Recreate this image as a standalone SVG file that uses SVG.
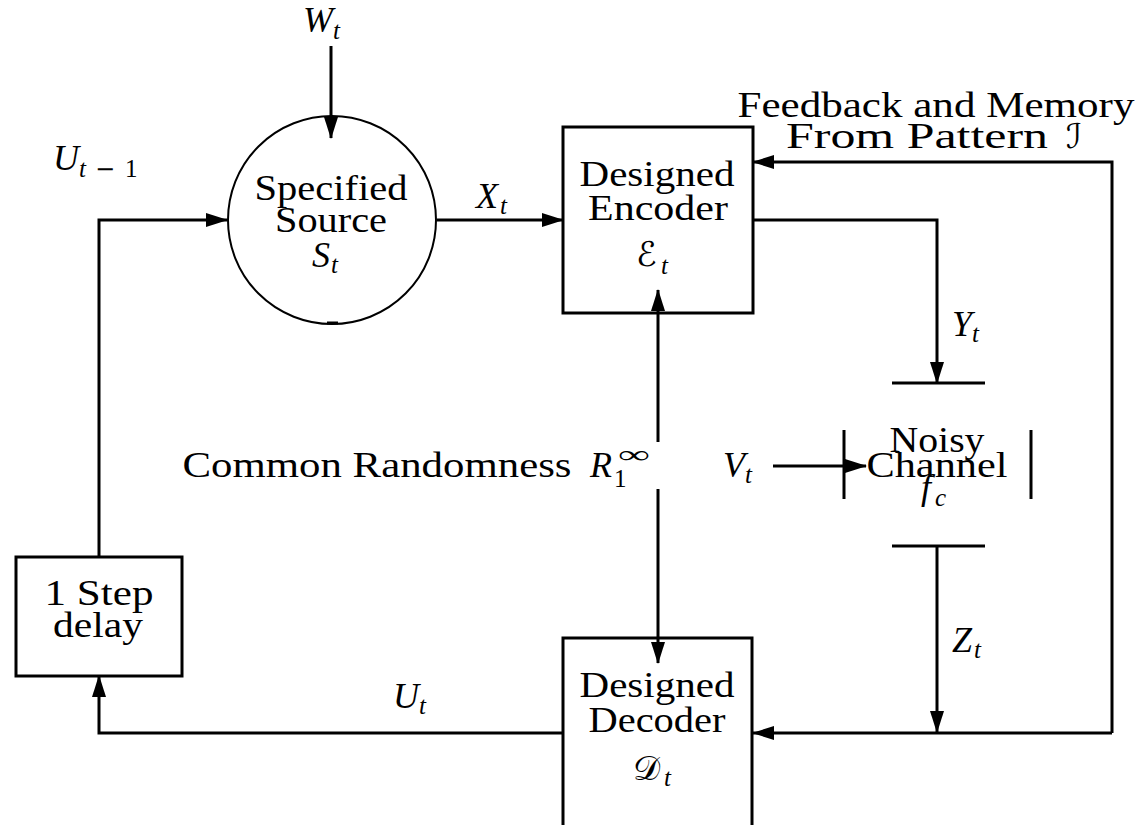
<svg xmlns="http://www.w3.org/2000/svg" width="1140" height="825" viewBox="0 0 1140 825">
<defs>
<marker id="arr" markerUnits="userSpaceOnUse" markerWidth="24" markerHeight="16" refX="21" refY="7" orient="auto">
<path d="M0,0 L22,7 L0,14 Z" fill="#000"/>
</marker>
<style>
.node{fill:#fff;stroke:#000;stroke-width:3}
.circ{fill:#fff;stroke:#000;stroke-width:2}
.bar{stroke:#000;stroke-width:3;fill:none}
.conn{stroke:#000;stroke-width:3;fill:none}
.arrow{marker-end:url(#arr)}
.rm{font-family:"Liberation Serif","DejaVu Serif",serif;font-size:36px;fill:#000;text-anchor:middle}
.mi{font-family:"Liberation Serif","DejaVu Serif",serif;font-size:36px;font-style:italic;fill:#000}
.sub{font-family:"Liberation Serif","DejaVu Serif",serif;font-size:25px;font-style:italic;fill:#000}
.subr{font-family:"Liberation Serif","DejaVu Serif",serif;font-size:25px;fill:#000}
.op{font-family:"DejaVu Serif","Liberation Serif",serif;font-size:24px;fill:#000}
.cal{font-family:"DejaVu Serif","DejaVu Sans","Noto Sans",serif;font-size:34px;fill:#000}
</style>
</defs>
<rect width="1140" height="825" fill="#fff"/>

<g id="source">
<circle class="circ" cx="332" cy="220" r="104"/>
<line class="bar" x1="327" y1="323" x2="338" y2="323"/>
<text class="rm" x="331" y="200" textLength="153" lengthAdjust="spacingAndGlyphs">Specified</text>
<text class="rm" x="331" y="232" textLength="112" lengthAdjust="spacingAndGlyphs">Source</text>
<text class="mi" x="312" y="267">S</text><text class="sub" x="331" y="273">t</text>
</g>

<g id="encoder">
<rect class="node" x="563" y="127" width="190" height="186"/>
<text class="rm" x="657" y="186" textLength="155" lengthAdjust="spacingAndGlyphs">Designed</text>
<text class="rm" x="658" y="220" textLength="140" lengthAdjust="spacingAndGlyphs">Encoder</text>
<text class="cal" x="636" y="266">ℰ</text><text class="sub" x="661" y="274">t</text>
</g>

<g id="decoder">
<rect class="node" x="563" y="638" width="189" height="200"/>
<text class="rm" x="657" y="697" textLength="155" lengthAdjust="spacingAndGlyphs">Designed</text>
<text class="rm" x="657" y="732" textLength="137" lengthAdjust="spacingAndGlyphs">Decoder</text>
<text class="cal" x="633" y="780">𝒟</text><text class="sub" x="664" y="786">t</text>
</g>

<g id="delay">
<rect class="node" x="16" y="557" width="166" height="119"/>
<text class="rm" x="99" y="605" textLength="109" lengthAdjust="spacingAndGlyphs">1 Step</text>
<text class="rm" x="98" y="637" textLength="90" lengthAdjust="spacingAndGlyphs">delay</text>
</g>

<g id="channel">
<line class="bar" x1="892" y1="383" x2="985" y2="383"/>
<line class="bar" x1="892" y1="546" x2="985" y2="546"/>
<line class="bar" x1="844" y1="430" x2="844" y2="499"/>
<line class="bar" x1="1031" y1="430" x2="1031" y2="499"/>
<text class="rm" x="937" y="452" textLength="95" lengthAdjust="spacingAndGlyphs">Noisy</text>
<text class="rm" x="937" y="477" textLength="141" lengthAdjust="spacingAndGlyphs">Channel</text>
<text class="mi" x="921" y="499">f</text><text class="sub" x="935" y="506">c</text>
</g>

<g id="labels">
<text class="mi" x="303" y="32">W</text><text class="sub" x="333" y="39">t</text>
<text class="mi" x="53" y="170">U</text><text class="sub" x="79" y="177">t</text><text class="op" x="95" y="177">−</text><text class="subr" x="125" y="177">1</text>
<text class="mi" x="476" y="208">X</text><text class="sub" x="500" y="214">t</text>
<text class="mi" x="952" y="336">Y</text><text class="sub" x="972" y="342">t</text>
<text class="mi" x="952" y="652">Z</text><text class="sub" x="974" y="658">t</text>
<text class="mi" x="723" y="477">V</text><text class="sub" x="745" y="483">t</text>
<text class="mi" x="393" y="708">U</text><text class="sub" x="419" y="714">t</text>
<text class="rm" x="377" y="477" textLength="389" lengthAdjust="spacingAndGlyphs">Common Randomness</text>
<text class="mi" x="590" y="477">R</text><text class="subr" x="614" y="487">1</text><text class="subr" x="618" y="463" font-size="30" textLength="32" lengthAdjust="spacingAndGlyphs">∞</text>
<text class="rm" x="936" y="117" textLength="397" lengthAdjust="spacingAndGlyphs">Feedback and Memory</text>
<text class="rm" x="917" y="148" textLength="262" lengthAdjust="spacingAndGlyphs">From Pattern</text>
<text class="cal" x="1066" y="148">ℐ</text>
</g>

<g id="connectors">
<path class="conn arrow" d="M331,46 V138"/>
<path class="conn arrow" d="M99,557 V220 H227"/>
<path class="conn arrow" d="M437,220 H563"/>
<path class="conn arrow" d="M1112,733 V162 H753"/>
<path class="conn arrow" d="M1112,733 H753"/>
<path class="conn arrow" d="M753,220 H937 V383"/>
<path class="conn arrow" d="M937,546 V732"/>
<path class="conn arrow" d="M773,466 H866"/>
<path class="conn arrow" d="M658,442 V290"/>
<path class="conn arrow" d="M658,489 V663"/>
<path class="conn arrow" d="M563,733 H99 V676"/>
</g>
</svg>
